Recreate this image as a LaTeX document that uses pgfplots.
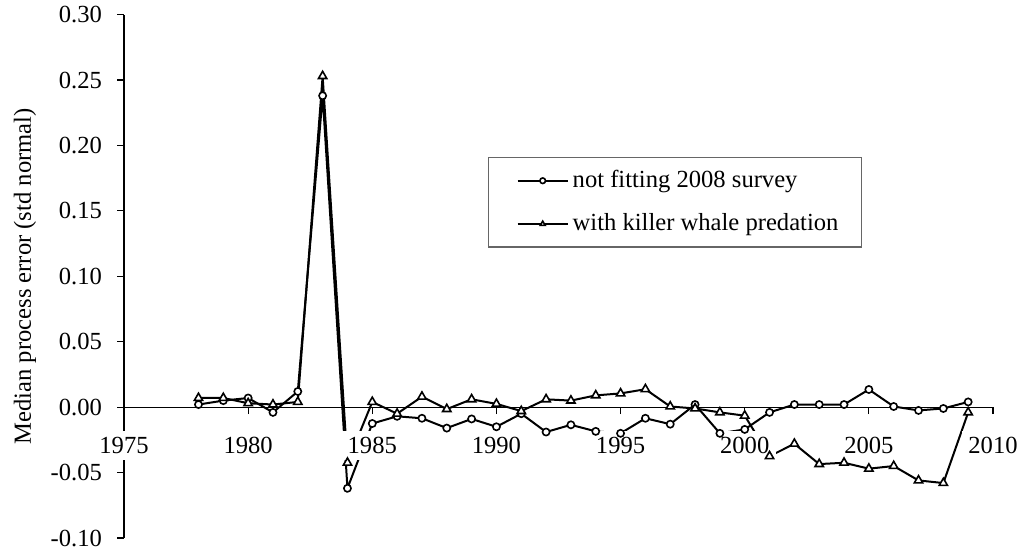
\documentclass[border=0pt]{standalone}
\usepackage{fontspec}
\setmainfont{Liberation Serif}
\usepackage{pgfplots}
\pgfplotsset{compat=1.18}

\begin{document}
\begin{tikzpicture}[font=\fontsize{12.3pt}{14pt}\selectfont]
\begin{axis}[
  scale only axis, width=434.5pt, height=261.7pt,
  at={(0,0)}, anchor=south west,
  xmin=1975, xmax=2010, ymin=-0.10, ymax=0.30,
  axis x line*=middle, axis y line*=left,
  hide obscured x ticks=false,
  axis on top, clip=false,
  axis line style={line width=0.6pt, black},
  xtick={1975,1980,...,2010},
  xticklabels={1975,1980,1985,1990,1995,2000,2005,2010},
  ytick={-0.10,-0.05,0,0.05,0.10,0.15,0.20,0.25,0.30},
  yticklabels={-0.10,-0.05,0.00,0.05,0.10,0.15,0.20,0.25,0.30},
  tick align=outside, major tick length=3.5pt,
  tick style={line width=0.6pt, black},
  xticklabel style={fill=white, anchor=north, yshift=-8pt},
  yticklabel style={xshift=-4pt},
  ylabel={Median process error (std normal)},
  every axis y label/.style={at={(rel axis cs:0,0.5)}, xshift=-49.5pt, rotate=90, anchor=center},
  legend style={at={(rel axis cs:0.419,0.728)}, anchor=north west,
    draw=black!60, fill=white, line width=0.6pt,
    inner xsep=9.5pt, inner ysep=4.5pt, row sep=7.5pt, cells={anchor=west},
    font=\fontsize{12.3pt}{14pt}\selectfont},
  legend image code/.code={\path (-4.5pt,0pt);
    \draw[mark repeat=2, mark phase=2, #1]
    plot coordinates {(0pt,0pt) (12.5pt,0pt) (25pt,0pt)};},
  legend image post style={mark size=1.4pt},
]
\coordinate (bl) at (rel axis cs:0,0);
\addplot[black, line width=1pt, mark=*, mark size=1.8pt,
  mark options={fill=white, draw=black, line width=0.8pt}] coordinates {
  (1978,0.002) (1979,0.005) (1980,0.007) (1981,-0.004) (1982,0.012)
  (1983,0.238) (1984,-0.062) (1985,-0.0125) (1986,-0.007) (1987,-0.0085)
  (1988,-0.016) (1989,-0.009) (1990,-0.015) (1991,-0.005) (1992,-0.019)
  (1993,-0.0135) (1994,-0.0185) (1995,-0.020) (1996,-0.0085) (1997,-0.013)
  (1998,0.002) (1999,-0.020) (2000,-0.017) (2001,-0.004) (2002,0.002)
  (2003,0.002) (2004,0.002) (2005,0.0135) (2006,0.0005) (2007,-0.0025)
  (2008,-0.001) (2009,0.004)};
\addlegendentry{not fitting 2008 survey}
\addplot[black, line width=1pt, mark=triangle*, mark size=2.4pt,
  mark options={fill=white, draw=black, line width=0.8pt}] coordinates {
  (1978,0.007) (1979,0.007) (1980,0.003) (1981,0.002) (1982,0.004)
  (1983,0.253) (1984,-0.0425) (1985,0.004) (1986,-0.005) (1987,0.008)
  (1988,-0.0015) (1989,0.006) (1990,0.0025) (1991,-0.003) (1992,0.006)
  (1993,0.005) (1994,0.009) (1995,0.0105) (1996,0.0137) (1997,0.0005)
  (1998,-0.001) (1999,-0.004) (2000,-0.0065) (2001,-0.0375) (2002,-0.028)
  (2003,-0.0435) (2004,-0.0425) (2005,-0.047) (2006,-0.045) (2007,-0.056)
  (2008,-0.058) (2009,-0.004)};
\addlegendentry{with killer whale predation}
\end{axis}
\pgfresetboundingbox
\path[use as bounding box] ([shift={(-62pt,-7pt)}]bl) rectangle ([shift={(448pt,269pt)}]bl);
\end{tikzpicture}
\end{document}
